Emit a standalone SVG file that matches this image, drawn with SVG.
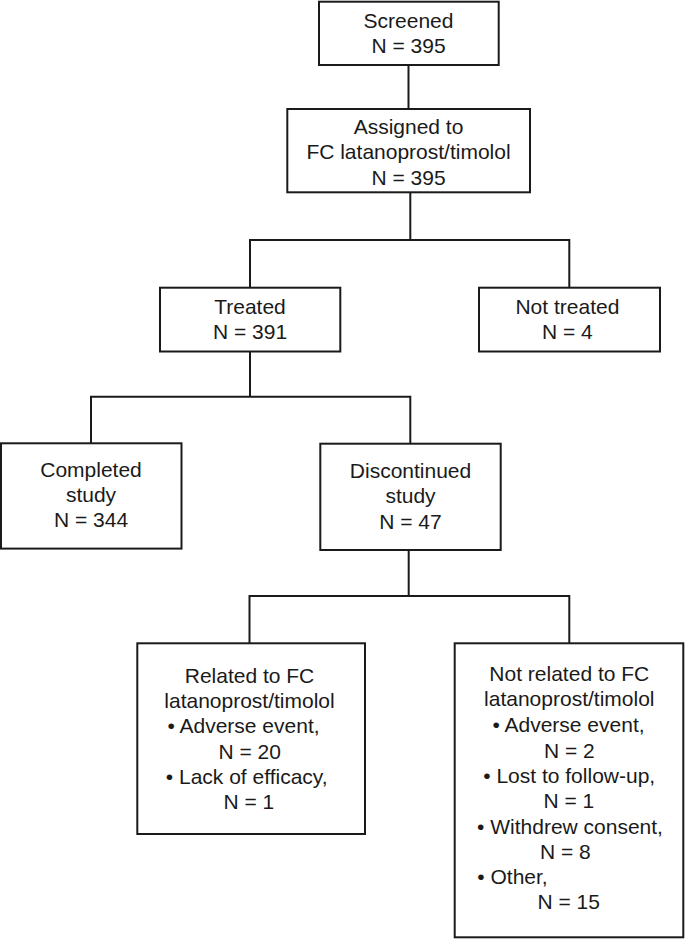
<svg xmlns="http://www.w3.org/2000/svg" width="685" height="939" viewBox="0 0 685 939">
<style>
.box{fill:#ffffff;stroke:#1a1a1a;stroke-width:2}
.conn{fill:none;stroke:#1a1a1a;stroke-width:2}
text{font-family:"Liberation Sans",Arial,Helvetica,sans-serif;font-size:21px;fill:#1a1a1a;text-anchor:middle}
text.l{text-anchor:start}
</style>
<rect width="685" height="939" fill="#ffffff"/>
<g id="connectors">
<path class="conn" d="M408.5 65 V109"/>
<path class="conn" d="M410.3 192.5 V240 M250 287.7 V240 H569.3 V287.7"/>
<path class="conn" d="M250 351.5 V396.7 M91 443.3 V396.7 H410.3 V443.7"/>
<path class="conn" d="M408.7 550 V596 M249.5 643.3 V596 H569.3 V643.3"/>
</g>
<g id="screened">
<rect class="box" x="319" y="1.7" width="179.7" height="63.3"/>
<text x="408.5" y="27.5">Screened</text>
<text x="408.5" y="53.3">N = 395</text>
</g>
<g id="assigned">
<rect class="box" x="287.3" y="109" width="242.7" height="83.3"/>
<text x="408.5" y="134">Assigned to</text>
<text x="408.5" y="159.3">FC latanoprost/timolol</text>
<text x="408.5" y="185">N = 395</text>
</g>
<g id="treated">
<rect class="box" x="160" y="287.7" width="180.3" height="63.8"/>
<text x="250" y="314">Treated</text>
<text x="250" y="339.3">N = 391</text>
</g>
<g id="not-treated">
<rect class="box" x="479" y="287.7" width="181" height="63.8"/>
<text x="567.4" y="314">Not treated</text>
<text x="567.4" y="339.3">N = 4</text>
</g>
<g id="completed">
<rect class="box" x="1" y="443.3" width="180.5" height="105.3"/>
<text x="91" y="476.7">Completed</text>
<text x="91" y="501.7">study</text>
<text x="91" y="527.3">N = 344</text>
</g>
<g id="discontinued">
<rect class="box" x="320.3" y="443.7" width="180.4" height="106.3"/>
<text x="410.5" y="477.7">Discontinued</text>
<text x="410.5" y="503.3">study</text>
<text x="410.5" y="528.7">N = 47</text>
</g>
<g id="related">
<rect class="box" x="137.3" y="643.3" width="227.7" height="190.7"/>
<text x="249.5" y="683">Related to FC</text>
<text x="249.5" y="708.3">latanoprost/timolol</text>
<text x="243.5" y="733.3">• Adverse event,</text>
<text x="249.7" y="759">N = 20</text>
<text x="246.7" y="784">• Lack of efficacy,</text>
<text x="248.8" y="809.3">N = 1</text>
</g>
<g id="not-related">
<rect class="box" x="454.7" y="643.3" width="228.6" height="294"/>
<text x="569.3" y="680.7">Not related to FC</text>
<text x="569.3" y="706">latanoprost/timolol</text>
<text x="568.5" y="731.7">• Adverse event,</text>
<text x="569.3" y="757.5">N = 2</text>
<text x="569.2" y="782.5">• Lost to follow-up,</text>
<text x="568.8" y="807.7">N = 1</text>
<text x="570" y="833.5">• Withdrew consent,</text>
<text x="565.3" y="858.7">N = 8</text>
<text class="l" x="477.3" y="884">• Other,</text>
<text x="568.7" y="909.3">N = 15</text>
</g>
</svg>
